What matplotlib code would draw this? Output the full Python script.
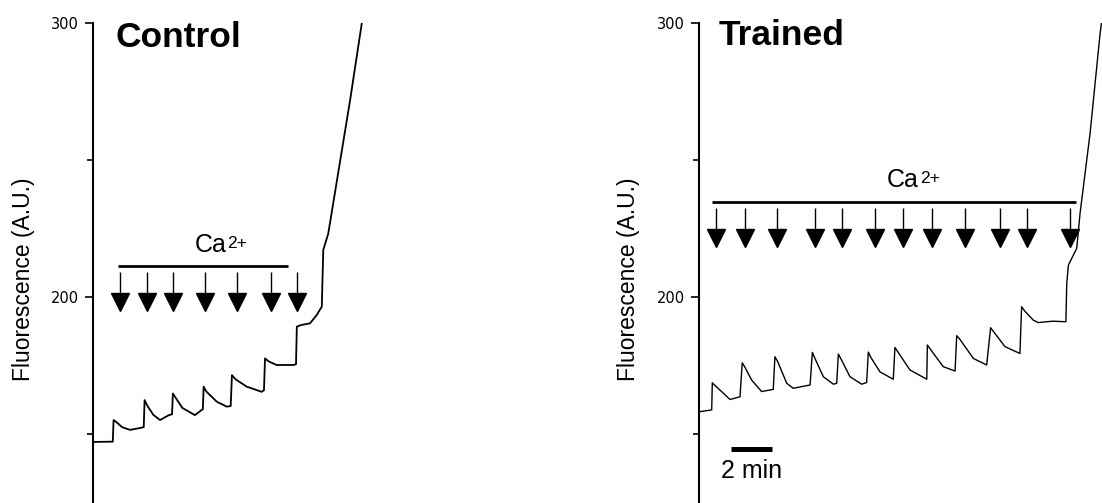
import matplotlib
matplotlib.use("Agg")
import matplotlib.pyplot as plt

plt.rcParams['font.family'] = ['Liberation Sans', 'DejaVu Sans']

# ---------------- data (time in min, fluorescence in A.U.) ----------------
ctrl_time = [0.00, 0.95, 0.99, 1.10, 1.40, 1.78, 2.26, 2.44,
             2.48, 2.60, 2.90, 3.22, 3.65, 3.80,
             3.84, 3.95, 4.30, 4.90, 5.23, 5.28,
             5.32, 5.45, 5.95, 6.43, 6.62,
             6.68, 6.85, 7.39, 8.11, 8.22,
             8.27, 8.45, 8.83, 9.63, 9.76,
             9.80, 10.00, 10.43, 10.75, 10.95, 11.00, 11.07, 11.31, 12.36, 12.92]
ctrl_fluo = [147.1, 147.2, 155.1, 154.5, 152.5, 151.5, 152.2, 152.5,
             162.4, 160.5, 157.0, 155.1, 156.9, 157.2,
             164.8, 163.5, 159.5, 156.9, 158.8, 159.0,
             167.3, 165.5, 161.8, 160.0, 160.2,
             171.5, 170.0, 167.3, 165.4, 166.0,
             177.6, 176.5, 175.2, 175.2, 175.5,
             189.2, 189.8, 190.4, 193.4, 195.9, 196.5, 217.2, 223.2, 271.9, 299.9]
ctrl_arrows = [1.30, 2.62, 3.85, 5.38, 6.91, 8.55, 9.79]
ctrl_ca_span = [1.22, 9.39]

trn_time = [0.00, 0.61,
            0.64, 0.80, 1.17, 1.49, 1.97,
            2.08, 2.20, 2.53, 3.01, 3.57,
            3.65, 3.78, 4.22, 4.53, 5.34,
            5.45, 5.58, 5.98, 6.46, 6.62,
            6.70, 6.82, 7.26, 7.82, 8.06,
            8.14, 8.26, 8.70, 9.34,
            9.42, 9.56, 10.14, 10.95,
            10.98, 11.12, 11.74, 12.31,
            12.39, 12.55, 13.19, 13.83,
            14.02, 14.15, 14.71, 15.43,
            15.51, 15.65, 16.07, 16.31, 17.00, 17.64,
            17.68, 17.76, 18.16, 18.32, 18.80, 19.28, 19.45]
trn_fluo = [158.1, 158.8,
            168.7, 167.5, 164.9, 162.6, 163.6,
            176.0, 174.5, 169.7, 165.5, 166.3,
            178.2, 176.5, 168.5, 166.7, 167.9,
            179.8, 177.5, 170.9, 168.2, 168.5,
            179.2, 177.5, 170.9, 168.2, 168.8,
            179.9, 178.0, 172.7, 170.0,
            181.6, 180.0, 173.4, 170.0,
            182.5, 181.0, 174.6, 173.0,
            185.9, 184.5, 177.6, 175.2,
            188.8, 187.5, 181.9, 179.4,
            196.5, 195.0, 191.6, 190.7, 191.2, 191.0,
            205.0, 211.7, 217.8, 230.6, 259.7, 296.0, 306.0]
trn_arrows = [0.80, 2.21, 3.73, 5.58, 6.86, 8.46, 9.82, 11.19, 12.79, 14.47, 15.75, 17.84]
trn_ca_span = [0.61, 18.13]

titles = ["Control", "Trained"]
ylabel = "Fluorescence (A.U.)"
ion_label = "Ca"
ion_charge = "2+"
scale_minutes = 2
scale_label = "2 min"

# ---------------- layout ----------------
W, H = 1102, 503
fig = plt.figure(figsize=(W / 100, H / 100), dpi=100)
px_per_min = 20.8
y_bottom = 124.8
ax_h = (503 - 23.3) / H

axL = fig.add_axes([93 / W, 0, 327 / W, ax_h])
axR = fig.add_axes([699 / W, 0, 403 / W, ax_h])
axL.set_xlim(0, 327 / px_per_min)
axR.set_xlim(0, 403 / px_per_min)

for ax in (axL, axR):
    ax.set_ylim(y_bottom, 300)
    for s in ('top', 'right', 'bottom'):
        ax.spines[s].set_visible(False)
    ax.spines['left'].set_linewidth(1.5)
    ax.set_xticks([])
    ax.set_yticks([200, 300])
    ax.set_yticklabels(['200', '300'], fontfamily='DejaVu Sans', fontsize=10.5)
    ax.set_yticks([150, 250], minor=True)
    ax.tick_params(axis='y', which='major', length=6, width=1.2, pad=4)
    ax.tick_params(axis='y', which='minor', length=4, width=1.2)
    ax.patch.set_alpha(0)


def draw_arrows(ax, xs, top, tip):
    head_h = 6.6
    ax.vlines(xs, tip + head_h / 2, top, colors='black', lw=1.0)
    ax.plot(xs, [tip + head_h / 2] * len(xs), linestyle='none', marker='v',
            markersize=12.5, color='black')


def ion_text(ax, x_left, y_base):
    t = ax.text(x_left, y_base, ion_label, ha='left', va='baseline', fontsize=18)
    ax.annotate(ion_charge, xy=(x_left + 32.4 / px_per_min, y_base + 1.5),
                xycoords='data', ha='left', va='baseline', fontsize=12.5)
    return t


# Control
axL.plot(ctrl_time, ctrl_fluo, color='black', lw=1.3)
draw_arrows(axL, ctrl_arrows, 209.2, 194.9)
axL.plot(ctrl_ca_span, [211.3, 211.3], color='black', lw=2.0, solid_capstyle='butt')
ion_text(axL, 4.87, 216.5)
axL.text(1.1, 291.3, titles[0], ha='left', va='baseline', fontsize=25.5, fontweight='bold')

# Trained
axR.plot(trn_time, trn_fluo, color='black', lw=1.0)
draw_arrows(axR, trn_arrows, 232.7, 218.4)
axR.plot(trn_ca_span, [234.9, 234.9], color='black', lw=2.0, solid_capstyle='butt')
ion_text(axR, 9.05, 240.3)
axR.text(0.93, 292.0, titles[1], ha='left', va='baseline', fontsize=25.5, fontweight='bold')

# scale bar
axR.plot([1.52, 1.52 + scale_minutes], [144.5, 144.5], color='black', lw=3.6, solid_capstyle='butt')
axR.text(2.53, 134.1, scale_label, ha='center', va='baseline', fontsize=18)

# y labels
fig.text(24 / W, 1 - 279 / H, ylabel, rotation=90, ha='center', va='center', fontsize=16.5)
fig.text(629 / W, 1 - 279 / H, ylabel, rotation=90, ha='center', va='center', fontsize=16.5)

fig.savefig("out.png", dpi=100)
